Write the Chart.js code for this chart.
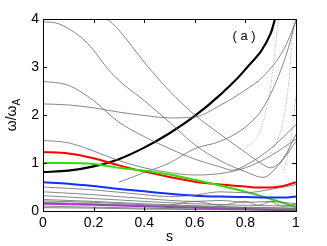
<!DOCTYPE html>
<html>
<head>
<meta charset="utf-8">
<script src="https://cdn.jsdelivr.net/npm/chart.js@4.4.1/dist/chart.umd.min.js"></script>
<style>
  html, body { margin: 0; padding: 0; background: #fff; }
  #wrap { width: 327px; height: 246px; }
</style>
</head>
<body>
<div id="wrap"><canvas id="c" width="327" height="246"></canvas></div>
<script>
// tick labels
const xTicks = [0, 0.2, 0.4, 0.6, 0.8, 1];
const yTicks = [0, 1, 2, 3, 4];

// highlighted modes
const blackS = [0, 0.1, 0.2, 0.3, 0.4, 0.5, 0.6, 0.7, 0.8, 0.9, 0.917];
const blackW = [0.81, 0.84, 0.93, 1.08, 1.32, 1.62, 1.98, 2.42, 2.95, 3.7, 4.0];
const redS = [0, 0.1, 0.2, 0.3, 0.4, 0.5, 0.6, 0.7, 0.8, 0.85, 0.9, 0.95, 1];
const redW = [1.23, 1.2, 1.1, 0.95, 0.82, 0.71, 0.61, 0.55, 0.51, 0.49, 0.49, 0.52, 0.6];
const greenS = [0, 0.1, 0.2, 0.3, 0.4, 0.5, 0.6, 0.7, 0.8, 0.9, 1];
const greenW = [1.0, 1.0, 0.98, 0.9, 0.84, 0.76, 0.65, 0.53, 0.4, 0.25, 0.08];
const blueS = [0, 0.1, 0.2, 0.3, 0.4, 0.5, 0.6, 0.7, 0.8, 0.9, 0.95, 1];
const blueW = [0.6, 0.57, 0.52, 0.46, 0.41, 0.36, 0.32, 0.3, 0.29, 0.28, 0.28, 0.3];
const purpleS = [0, 0.2, 0.4, 0.6, 0.8, 1];
const purpleW = [0.15, 0.13, 0.1, 0.07, 0.04, 0.01];

// thin grey modes
const greyA_S = [0, 0.05, 0.1, 0.15, 0.2, 0.25, 0.3, 0.4, 0.5, 0.6, 0.7, 0.8, 0.87, 0.93, 1];
const greyA_W = [3.94, 3.92, 3.8, 3.62, 3.35, 3.0, 2.72, 2.3, 1.85, 1.38, 1.05, 0.82, 0.7, 0.95, 1.45];
const greyB_S = [0.25, 0.3, 0.4, 0.5, 0.6, 0.7, 0.8, 0.86, 0.9, 0.95, 1];
const greyB_W = [4.02, 3.77, 3.1, 2.5, 2.0, 1.6, 1.22, 1.0, 0.9, 1.1, 1.6];
const greyC_S = [0, 0.1, 0.2, 0.3, 0.4, 0.5, 0.6, 0.7, 0.75, 0.8, 0.9, 1];
const greyC_W = [2.7, 2.62, 2.3, 1.85, 1.55, 1.3, 1.08, 0.92, 0.85, 0.95, 1.3, 1.8];
const greyD_S = [0, 0.1, 0.2, 0.3, 0.4, 0.5, 0.6, 0.7, 0.8, 0.87, 0.95, 1];
const greyD_W = [2.23, 2.21, 2.15, 2.06, 1.99, 1.94, 1.96, 2.2, 2.52, 2.8, 3.35, 3.95];
const greyE_S = [0, 0.1, 0.2, 0.3, 0.4, 0.5, 0.6, 0.7, 0.8, 0.9, 1];
const greyE_W = [1.47, 1.42, 1.25, 1.05, 0.9, 0.8, 0.75, 0.78, 0.9, 1.15, 1.5];
const greyF_S = [0.3, 0.4, 0.5, 0.6, 0.7, 0.8, 0.87, 0.93, 0.97, 1];
const greyF_W = [0.6, 0.8, 1.0, 1.3, 1.45, 1.75, 2.15, 2.8, 3.4, 4.0];
const greyG_S = [0, 0.2, 0.4, 0.5, 0.6, 0.7, 0.8, 0.9, 1];
const greyG_W = [0.5, 0.44, 0.34, 0.3, 0.33, 0.4, 0.38, 0.45, 0.55];
const greyH_S = [0, 0.2, 0.4, 0.6, 0.7, 0.8, 0.9, 1];
const greyH_W = [0.4, 0.34, 0.26, 0.2, 0.22, 0.18, 0.2, 0.15];
const greyI_S = [0, 0.2, 0.4, 0.6, 0.8, 1];
const greyI_W = [0.32, 0.26, 0.2, 0.15, 0.12, 0.1];
const greyJ_S = [0, 0.2, 0.4, 0.6, 0.8, 1];
const greyJ_W = [0.24, 0.2, 0.15, 0.11, 0.08, 0.06];
const greyK_S = [0, 0.2, 0.4, 0.6, 0.8, 1];
const greyK_W = [0.1, 0.08, 0.06, 0.04, 0.03, 0.02];
const greyL_S = [0, 0.2, 0.4, 0.6, 0.8, 1];
const greyL_W = [0.21, 0.18, 0.13, 0.1, 0.07, 0.05];
const greyM_S = [0, 0.2, 0.4, 0.6, 0.8, 1];
const greyM_W = [0.18, 0.15, 0.11, 0.08, 0.05, 0.03];
const greyN_S = [0, 0.2, 0.4, 0.6, 0.8, 1];
const greyN_W = [0.07, 0.06, 0.04, 0.03, 0.02, 0.01];
const greyO_S = [0.5, 0.6, 0.7, 0.8, 0.85, 0.9, 0.95, 1];
const greyO_W = [0.12, 0.2, 0.12, 0.2, 0.12, 0.19, 0.1, 0.14];

// dotted modes near the edge
const dot1S = [0.8, 0.86, 0.89, 0.91, 0.93];
const dot1W = [1.3, 1.69, 2.3, 3.0, 4.0];
const dot2S = [0.9, 0.94, 0.97, 0.99];
const dot2W = [1.2, 1.69, 2.6, 4.0];
const dot3S = [0.95, 0.98, 1.0];
const dot3W = [0.8, 1.5, 2.4];

function pts(s, w) { return s.map((v, i) => ({ x: v, y: w[i] })); }

function line(s, w, color, width, dash) {
  return {
    data: pts(s, w),
    borderColor: color,
    borderWidth: width,
    borderDash: dash || [],
    pointRadius: 0,
    fill: false,
    cubicInterpolationMode: 'monotone'
  };
}

const GREY = '#6a6a6a';
const datasets = [
  line(greyA_S, greyA_W, GREY, 0.8),
  line(greyB_S, greyB_W, GREY, 0.8),
  line(greyC_S, greyC_W, GREY, 0.8),
  line(greyD_S, greyD_W, GREY, 0.8),
  line(greyE_S, greyE_W, GREY, 0.8),
  line(greyF_S, greyF_W, GREY, 0.8),
  line(greyG_S, greyG_W, GREY, 0.8),
  line(greyH_S, greyH_W, GREY, 0.8),
  line(greyI_S, greyI_W, GREY, 0.8),
  line(greyJ_S, greyJ_W, GREY, 0.8),
  line(greyK_S, greyK_W, GREY, 0.8),
  line(greyL_S, greyL_W, GREY, 0.8),
  line(greyM_S, greyM_W, GREY, 0.8),
  line(greyN_S, greyN_W, GREY, 0.8),
  line(greyO_S, greyO_W, GREY, 0.8),
  line(dot1S, dot1W, '#999', 0.8, [1, 1.5]),
  line(dot2S, dot2W, '#999', 0.8, [1, 1.5]),
  line(dot3S, dot3W, '#999', 0.8, [1, 1.5]),
  line(purpleS, purpleW, '#b030e0', 2),
  line(blueS, blueW, '#1030ff', 2),
  line(greenS, greenW, '#33dd00', 2),
  line(redS, redW, '#ff0000', 2),
  line(blackS, blackW, '#000000', 2.2)
];

const FONT = '"Liberation Sans", Arial, sans-serif';

const frame = {
  id: 'frame',
  afterDraw(chart) {
    const ctx = chart.ctx, a = chart.chartArea;
    const xs = chart.scales.x, ys = chart.scales.y;
    ctx.save();
    ctx.strokeStyle = '#000';
    ctx.lineWidth = 1;
    ctx.strokeRect(Math.round(a.left) + 0.5, Math.round(a.top) + 0.5,
      Math.round(a.right - a.left), Math.round(a.bottom - a.top));
    ctx.beginPath();
    xTicks.forEach(t => {
      const px = Math.round(xs.getPixelForValue(t)) + 0.5;
      ctx.moveTo(px, a.bottom); ctx.lineTo(px, a.bottom - 4);
      ctx.moveTo(px, a.top); ctx.lineTo(px, a.top + 4);
    });
    yTicks.forEach(t => {
      const py = Math.round(ys.getPixelForValue(t)) + 0.5;
      ctx.moveTo(a.left, py); ctx.lineTo(a.left + 4, py);
      ctx.moveTo(a.right, py); ctx.lineTo(a.right - 4, py);
    });
    ctx.stroke();
    // y axis title with subscript
    ctx.fillStyle = '#000';
    ctx.translate(16, (a.top + a.bottom) / 2);
    ctx.rotate(-Math.PI / 2);
    const main = 'ω/ω';
    ctx.font = '14px ' + FONT;
    const wMain = ctx.measureText(main).width;
    ctx.font = '10px ' + FONT;
    const wSub = ctx.measureText('A').width;
    const x0 = -(wMain + wSub) / 2;
    ctx.textBaseline = 'alphabetic';
    ctx.font = '14px ' + FONT;
    ctx.fillText(main, x0, 0);
    ctx.font = '10px ' + FONT;
    ctx.fillText('A', x0 + wMain, 4);
    ctx.restore();
    // panel tag
    ctx.save();
    ctx.fillStyle = '#000';
    ctx.font = '13px ' + FONT;
    ctx.textAlign = 'center';
    ctx.textBaseline = 'middle';
    ctx.fillText('( a )', 244, 36);
    ctx.restore();
  }
};

new Chart(document.getElementById('c'), {
  type: 'line',
  data: { datasets },
  plugins: [frame],
  options: {
    responsive: false,
    animation: false,
    events: [],
    layout: { padding: { top: 19, right: 31, left: 0, bottom: 0 } },
    plugins: { legend: { display: false }, tooltip: { enabled: false } },
    scales: {
      x: {
        type: 'linear', min: 0, max: 1,
        afterFit(scale) { scale.height = 35; },
        afterBuildTicks(scale) { scale.ticks = xTicks.map(v => ({ value: v })); },
        grid: { display: false, drawTicks: false },
        border: { display: false },
        ticks: {
          padding: 4, color: '#000', maxRotation: 0,
          font: { family: FONT, size: 14 },
          callback: v => String(v)
        },
        title: {
          display: true, text: 's', color: '#000', padding: { top: 0, bottom: 0 },
          font: { family: FONT, size: 14 }
        }
      },
      y: {
        type: 'linear', min: 0, max: 4,
        afterFit(scale) { scale.width = 43; },
        afterBuildTicks(scale) { scale.ticks = yTicks.map(v => ({ value: v })); },
        grid: { display: false, drawTicks: false },
        border: { display: false },
        ticks: {
          padding: 4, color: '#000',
          font: { family: FONT, size: 14 },
          callback: v => String(v)
        }
      }
    }
  }
});
</script>
</body>
</html>
